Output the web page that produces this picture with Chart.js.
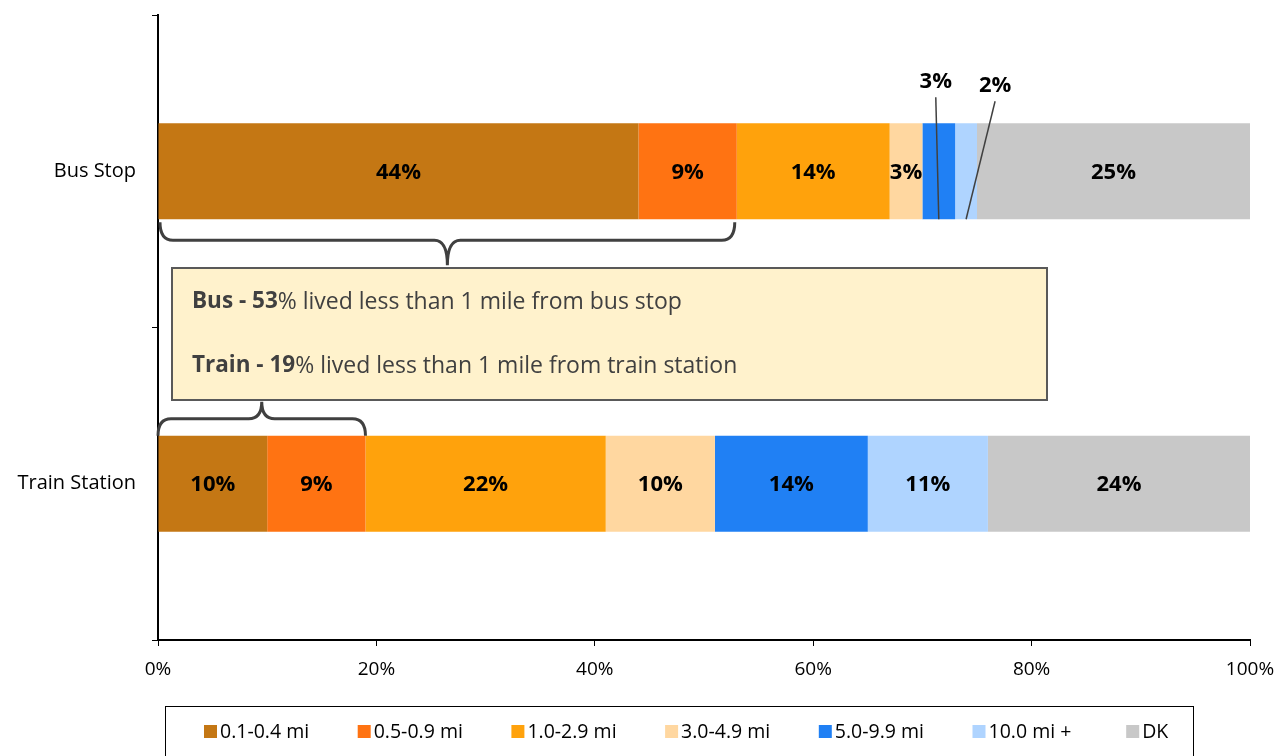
<!DOCTYPE html>
<html>
<head>
<meta charset="utf-8">
<script src="https://cdn.jsdelivr.net/npm/chart.js@4/dist/chart.umd.min.js"></script>
<style>
  html, body { margin: 0; padding: 0; background: #fff; }
  #wrap { width: 1277px; height: 756px; position: relative; }
</style>
</head>
<body>
<div id="wrap"><canvas id="c" width="1277" height="756"></canvas></div>
<script>
// ---- data ----
const categories = ['Bus Stop', 'Train Station'];
const seriesNames = ['0.1-0.4 mi', '0.5-0.9 mi', '1.0-2.9 mi', '3.0-4.9 mi', '5.0-9.9 mi', '10.0 mi +', 'DK'];
const s01to04 = [44, 10];
const s05to09 = [9, 9];
const s10to29 = [14, 22];
const s30to49 = [3, 10];
const s50to99 = [3, 14];
const s10plus = [2, 11];
const sDK = [25, 24];
const xTickValues = [0, 20, 40, 60, 80, 100];
const busLessThanMile = 53;   // 44 + 9
const trainLessThanMile = 19; // 10 + 9
const seriesColors = ['#C47714', '#FF7312', '#FFA20C', '#FFD7A0', '#2080F4', '#AFD4FF', '#C8C8C8'];

const FONT = "'Open Sans', 'Liberation Sans', sans-serif";
const seriesValues = [s01to04, s05to09, s10to29, s30to49, s50to99, s10plus, sDK];

const datasets = seriesNames.map((n, i) => ({
  label: n,
  data: seriesValues[i],
  backgroundColor: seriesColors[i],
  borderWidth: 0,
  barPercentage: 0.307,
  categoryPercentage: 1.0
}));

// labels for small bus-stop segments drawn outside with leader lines
const outsideLabels = { '4-0': { dx: -3, dy: -42 }, '5-0': { dx: 29, dy: -38 } };

const overlayPlugin = {
  id: 'overlay',
  afterDatasetsDraw(chart) {
    const ctx = chart.ctx;
    const xs = chart.scales.x;
    ctx.save();
    // data labels
    chart.data.datasets.forEach((ds, di) => {
      const meta = chart.getDatasetMeta(di);
      meta.data.forEach((bar, j) => {
        const v = ds.data[j];
        const cx = (bar.x + bar.base) / 2;
        const key = di + '-' + j;
        ctx.font = "bold 22px " + FONT;
        ctx.fillStyle = '#000';
        ctx.textAlign = 'center';
        ctx.textBaseline = 'middle';
        if (outsideLabels[key]) {
          const o = outsideLabels[key];
          const top = bar.y - bar.height / 2;
          const bottom = bar.y + bar.height / 2;
          const lx = cx + o.dx, ly = top + o.dy;
          ctx.fillText(v + '%', lx, ly);
          ctx.strokeStyle = '#404040';
          ctx.lineWidth = 1.5;
          ctx.beginPath();
          ctx.moveTo(lx, ly + 16);
          ctx.lineTo(cx, bottom);
          ctx.stroke();
        } else {
          ctx.fillText(v + '%', cx, bar.y + 1);
        }
      });
    });

    // braces
    const m0 = chart.getDatasetMeta(0).data;
    const busBar = m0[0], trainBar = m0[1];
    function brace(x1, x2, yEnd, yMid, yTip) {
      const r = 13;
      const xm = (x1 + x2) / 2;
      ctx.beginPath();
      ctx.moveTo(x1, yEnd);
      ctx.quadraticCurveTo(x1, yMid, x1 + r, yMid);
      ctx.lineTo(xm - r, yMid);
      ctx.quadraticCurveTo(xm, yMid, xm, yTip);
      ctx.quadraticCurveTo(xm, yMid, xm + r, yMid);
      ctx.lineTo(x2 - r, yMid);
      ctx.quadraticCurveTo(x2, yMid, x2, yEnd);
      ctx.stroke();
    }
    ctx.strokeStyle = '#404040';
    ctx.lineWidth = 3;
    const busBottom = busBar.y + busBar.height / 2;
    brace(xs.getPixelForValue(0) + 2, xs.getPixelForValue(busLessThanMile) - 2, busBottom + 3, busBottom + 21, busBottom + 46);
    const trainTop = trainBar.y - trainBar.height / 2;
    brace(xs.getPixelForValue(0), xs.getPixelForValue(trainLessThanMile), trainTop, trainTop - 17, trainTop - 34);

    // text box
    const bx = chart.chartArea.left + 14, by = 268, bw = 875, bh = 132;
    ctx.fillStyle = '#FFF2CC';
    ctx.fillRect(bx, by, bw, bh);
    ctx.strokeStyle = '#595959';
    ctx.lineWidth = 2;
    ctx.strokeRect(bx, by, bw, bh);
    function mixed(boldT, normT, x, y) {
      ctx.textAlign = 'left';
      ctx.textBaseline = 'middle';
      ctx.fillStyle = '#404040';
      ctx.font = "bold 22.5px " + FONT;
      ctx.fillText(boldT, x, y);
      const w = ctx.measureText(boldT).width;
      ctx.font = "23px " + FONT;
      ctx.fillText(normT, x + w, y);
    }
    mixed('Bus - ' + busLessThanMile, '% lived less than 1 mile from bus stop', bx + 20, by + 34);
    mixed('Train - ' + trainLessThanMile, '% lived less than 1 mile from train station', bx + 20, by + 98);
    ctx.restore();
  },
  afterDraw(chart) {
    const ctx = chart.ctx;
    ctx.save();
    // legend
    ctx.strokeStyle = '#000';
    ctx.lineWidth = 1;
    ctx.strokeRect(165.5, 706.5, 1028, 60);
    ctx.font = "19.5px " + FONT;
    ctx.textAlign = 'left';
    ctx.textBaseline = 'middle';
    chart.data.datasets.forEach((ds, i) => {
      const x = 204 + i * 153.7;
      const y = 731;
      ctx.fillStyle = ds.backgroundColor;
      ctx.fillRect(x, y - 6, 13, 13);
      ctx.fillStyle = '#000';
      ctx.fillText(ds.label, x + 16, y + 1);
    });
    ctx.restore();
  }
};

new Chart(document.getElementById('c'), {
  type: 'bar',
  data: { labels: categories, datasets },
  options: {
    indexAxis: 'y',
    responsive: false,
    animation: false,
    layout: { padding: { top: 15, right: 27, left: 0, bottom: 0 } },
    plugins: { legend: { display: false }, tooltip: { enabled: false } },
    scales: {
      x: {
        stacked: true,
        min: 0, max: 100,
        afterBuildTicks(scale) { scale.ticks = xTickValues.map(v => ({ value: v })); },
        afterFit(scale) { scale.height = 116; scale.paddingLeft = 0; scale.paddingRight = 0; },
        ticks: { callback: v => v + '%', color: '#000', font: { family: FONT, size: 19 }, padding: 12, maxRotation: 0 },
        grid: { drawOnChartArea: false, tickLength: 6, color: '#000', lineWidth: 1 },
        border: { color: '#000', width: 2 }
      },
      y: {
        stacked: true,
        afterFit(scale) { scale.width = 158; scale.paddingTop = 0; scale.paddingBottom = 0; },
        ticks: { color: '#000', font: { family: FONT, size: 20 }, padding: 16 },
        grid: { offset: true, drawOnChartArea: false, tickLength: 6, color: '#000', lineWidth: 1 },
        border: { color: '#000', width: 2 }
      }
    }
  },
  plugins: [overlayPlugin]
});
</script>
</body>
</html>
